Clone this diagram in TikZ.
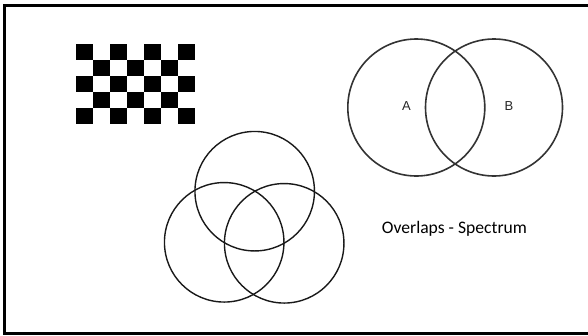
\documentclass[tikz,border=0pt]{standalone}
\usepackage{fontspec}
\setmainfont{Carlito}
\newfontfamily\labelfont{Liberation Sans}
\begin{document}
\begin{tikzpicture}[x=1pt,y=-1pt,
  venn/.style={draw=black!80,line width=1.6pt,circle,inner sep=0pt,minimum size=137pt},
  triple/.style={draw=black!90,line width=1.4pt,circle,inner sep=0pt,minimum size=119.5pt},
  setlabel/.style={font=\labelfont\fontsize{13}{13}\selectfont,text=black!85,inner sep=0pt},
  caption/.style={font=\fontsize{17.6}{18}\selectfont,anchor=base west,inner sep=0pt}]
  \useasboundingbox (0,0) rectangle (588,335);
  % slide frame
  \begin{scope}
    \clip (0,0) rectangle (588,335);
    \draw[line width=3pt] (4.5,5.5) rectangle (595,333.8);
  \end{scope}
  % checkerboard, 7 x 5 squares
  \foreach \i in {0,...,6}{
    \foreach \j in {0,...,4}{
      \pgfmathtruncatemacro{\cellparity}{mod(\i+\j,2)}
      \ifnum\cellparity=0
        \fill (76+17*\i,44+16*\j) rectangle ++(17,16);
      \fi
    }
  }
  % two-set diagram
  \node[venn] (setA) at (416.3,107.5) {};
  \node[venn] (setB) at (494,107.5) {};
  \node[setlabel] (labA) at (406.5,106) {A};
  \node[setlabel] (labB) at (509,106) {B};
  % three-set diagram
  \node[triple] (top) at (254.7,191.2) {};
  \node[triple] (left) at (224.2,242.3) {};
  \node[triple] (right) at (284.2,243.3) {};
  % caption
  \node[caption] (cap) at (381.7,233) {Overlaps - Spectrum};
\end{tikzpicture}
\end{document}
